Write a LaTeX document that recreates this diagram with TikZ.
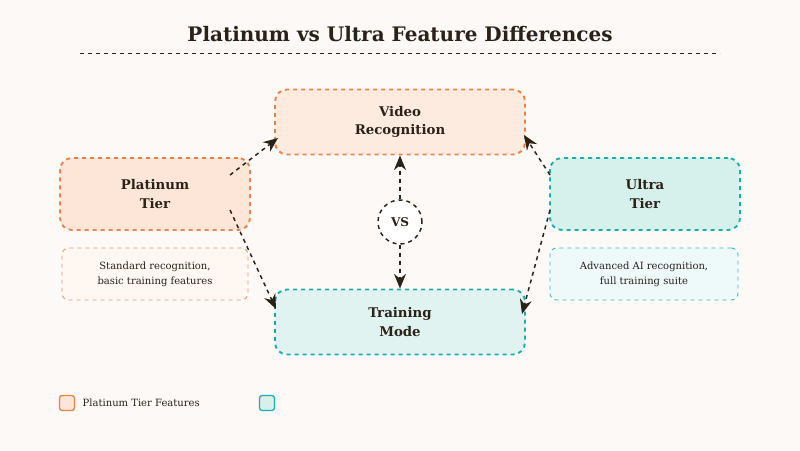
\documentclass[tikz,border=0pt]{standalone}
\usepackage{fontspec}
\setmainfont{DejaVu Serif}
\usetikzlibrary{arrows.meta}
\definecolor{bg}{HTML}{FDF9F7}
\definecolor{org}{HTML}{E8834A}
\definecolor{orgfill}{HTML}{FDE5D7}
\definecolor{orgfill2}{HTML}{FDEBDF}
\definecolor{orglite}{HTML}{FFF8F2}
\definecolor{tea}{HTML}{1AAFAF}
\definecolor{teafill}{HTML}{D6F0EC}
\definecolor{teafill2}{HTML}{E0F3F0}
\definecolor{tealite}{HTML}{EEFAFA}
\definecolor{ink}{HTML}{2A2118}
\begin{document}
\begin{tikzpicture}[x=0.75pt,y=-0.75pt,
  box/.style={rounded corners=9pt,dashed,line width=1.4pt,draw,align=center,font=\bfseries\fontsize{10}{14}\selectfont,text=ink,inner sep=0pt},
  desc/.style={rounded corners=5pt,dashed,line width=0.7pt,draw,align=center,font=\fontsize{7.5}{11}\selectfont,text=ink,inner sep=0pt},
  arr/.style={dashed,line width=1.1pt,draw=ink,-{Stealth[length=11pt,width=9pt]}}]
\fill[bg] (0,0) rectangle (800,450);
\node[font=\bfseries\fontsize{15}{18}\selectfont,text=ink] (title) at (400,34) {Platinum vs Ultra Feature Differences};
\draw[dashed,ink,line width=0.7pt] (80,53) -- (720,53);
\node[box,draw=org,fill=orgfill2,minimum width=250*0.75pt,minimum height=65*0.75pt] (video) at (400,122) {Video\\Recognition};
\node[box,draw=org,fill=orgfill,minimum width=190*0.75pt,minimum height=72*0.75pt] (plat) at (155,194) {Platinum\\Tier};
\node[box,draw=tea,fill=teafill,minimum width=190*0.75pt,minimum height=72*0.75pt] (ultra) at (645,194) {Ultra\\Tier};
\node[box,draw=tea,fill=teafill2,minimum width=250*0.75pt,minimum height=65*0.75pt] (train) at (400,322) {Training\\Mode};
\node[desc,draw=org!85,fill=orglite,minimum width=186*0.75pt,minimum height=52*0.75pt] (pdesc) at (155,274) {Standard recognition,\\basic training features};
\node[desc,draw=tea!85,fill=tealite,minimum width=188*0.75pt,minimum height=52*0.75pt] (udesc) at (644,274) {Advanced AI recognition,\\full training suite};
\node[circle,draw=ink,dashed,line width=1.1pt,fill=white,minimum size=44*0.75pt,inner sep=0pt,font=\bfseries\fontsize{9}{10}\selectfont,text=ink] (vs) at (400,222) {VS};
\coordinate (p1) at (230,175); \coordinate (p2) at (230,210);
\coordinate (u1) at (550,175); \coordinate (u2) at (550,210);
\coordinate (v1) at (278,138); \coordinate (t1) at (276,309);
\coordinate (v2) at (524,135); \coordinate (t2) at (522,314);
\draw[arr] (p1) -- (v1);
\draw[arr] (p2) -- (t1);
\draw[arr] (u1) -- (v2);
\draw[arr] (u2) -- (t2);
\draw[arr] (vs.north) -- (video.south);
\draw[arr] (vs.south) -- (train.north);
\node[rounded corners=2pt,draw=org,fill=orgfill,line width=1pt,minimum size=15*0.75pt,inner sep=0pt] (lg1) at (67,403) {};
\node[anchor=west,font=\fontsize{7.5}{9}\selectfont,text=ink] (lt1) at (78,403) {Platinum Tier Features};
\node[rounded corners=2pt,draw=tea,fill=teafill,line width=1pt,minimum size=15*0.75pt,inner sep=0pt] (lg2) at (267,403) {};
\end{tikzpicture}
\end{document}
